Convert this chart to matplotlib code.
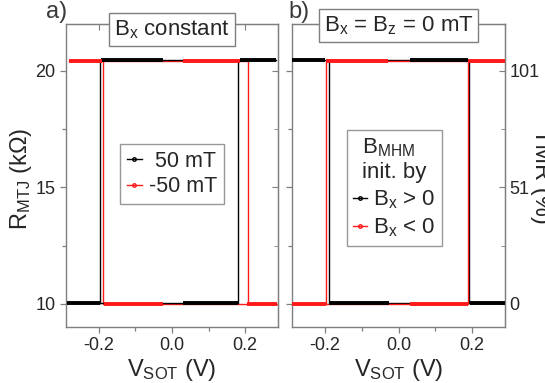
import matplotlib
matplotlib.use("Agg")
import matplotlib.pyplot as plt
from matplotlib.lines import Line2D
from matplotlib.ticker import MultipleLocator, FixedFormatter

plt.rcParams['font.family'] = ['Liberation Sans', 'DejaVu Sans']
plt.rcParams['mathtext.fontset'] = 'custom'
plt.rcParams['mathtext.rm'] = 'Liberation Sans'
plt.rcParams['mathtext.it'] = 'Liberation Sans'
plt.rcParams['mathtext.default'] = 'regular'

# ---------------- data ----------------
# Panel a (B_x constant): thin connecting loops (V in volts, R in kOhm)
a_black_loop_v = [-0.287, 0.182, 0.182, 0.286, -0.197, -0.197]
a_black_loop_r = [10.02, 10.02, 20.46, 20.46, 20.46, 10.02]
a_red_loop_v = [-0.283, 0.208, 0.208, 0.288, -0.188, -0.188]
a_red_loop_r = [20.40, 20.40, 10.00, 10.00, 10.00, 20.40]
# measured (symbol) segments: V start, V end, R level
a_black_seg_v0 = [-0.287, -0.194, 0.030, 0.186]
a_black_seg_v1 = [-0.197, -0.024, 0.182, 0.286]
a_black_seg_r = [10.02, 20.46, 10.02, 20.48]
a_red_seg_v0 = [-0.283, -0.186, 0.029, 0.206]
a_red_seg_v1 = [-0.190, -0.024, 0.186, 0.288]
a_red_seg_r = [20.40, 10.00, 20.40, 10.00]

# Panel b (B_x = B_z = 0 mT)
b_black_loop_v = [-0.290, 0.192, 0.192, 0.290, -0.189, -0.189]
b_black_loop_r = [20.44, 20.44, 10.02, 10.02, 10.02, 20.44]
b_red_loop_v = [-0.290, 0.190, 0.190, 0.290, -0.198, -0.198]
b_red_loop_r = [10.00, 10.00, 20.40, 20.40, 20.40, 10.00]
b_black_seg_v0 = [-0.290, -0.189, 0.030, 0.193]
b_black_seg_v1 = [-0.200, -0.025, 0.190, 0.290]
b_black_seg_r = [20.44, 10.02, 20.44, 10.02]
b_red_seg_v0 = [-0.290, -0.198, 0.030, 0.190]
b_red_seg_v1 = [-0.198, -0.030, 0.190, 0.290]
b_red_seg_r = [10.00, 20.40, 10.00, 20.40]

x_ticks = [-0.2, 0.0, 0.2]
x_ticklabels = ['-0.2', '0.0', '0.2']
y_ticks = [10, 15, 20]
tmr_ticklabels = ['0', '51', '101']

BLACK = '#000000'
RED = '#ff1a1a'
GRAY = '#7f7f7f'
TXT = '#262626'

fig = plt.figure(figsize=(5.45, 3.83), dpi=100)
ax_a = fig.add_axes([0.121, 0.146, 0.389, 0.791])
ax_b = fig.add_axes([0.536, 0.146, 0.391, 0.791])


def draw(ax, loops, segs):
    for (v, r, c, z) in loops:
        ax.plot(v, r, color=c, lw=1.0, zorder=z)
    for (v0, v1, rr, c, z) in segs:
        for a, b, r in zip(v0, v1, rr):
            ax.plot([a, b], [r, r], color=c, lw=2.8, zorder=z,
                    solid_capstyle='butt')


draw(ax_a,
     [(a_red_loop_v, a_red_loop_r, RED, 2), (a_black_loop_v, a_black_loop_r, BLACK, 3)],
     [(a_black_seg_v0, a_black_seg_v1, a_black_seg_r, BLACK, 4),
      (a_red_seg_v0, a_red_seg_v1, a_red_seg_r, RED, 4)])
draw(ax_b,
     [(b_black_loop_v, b_black_loop_r, BLACK, 2), (b_red_loop_v, b_red_loop_r, RED, 3)],
     [(b_black_seg_v0, b_black_seg_v1, b_black_seg_r, BLACK, 4),
      (b_red_seg_v0, b_red_seg_v1, b_red_seg_r, RED, 4)])

for ax in (ax_a, ax_b):
    ax.set_xlim(-0.29, 0.29)
    ax.set_ylim(9, 22)
    ax.set_xticks(x_ticks)
    ax.set_xticklabels(x_ticklabels)
    ax.xaxis.set_minor_locator(MultipleLocator(0.1))
    ax.set_yticks(y_ticks)
    ax.yaxis.set_minor_locator(MultipleLocator(2.5))
    for s in ax.spines.values():
        s.set_color(GRAY)
        s.set_linewidth(1.0)
    ax.tick_params(which='both', direction='out', color=GRAY, labelsize=13,
                   labelcolor=TXT, top=False, right=False, width=0.9)
    ax.tick_params(which='major', length=4)
    ax.tick_params(which='minor', length=3)
    ax.set_xlabel('V$_{SOT}$ (V)', fontsize=17, color=TXT, labelpad=2)
    sx = ax.secondary_xaxis('top')
    sx.set_xticks(x_ticks)
    sx.tick_params(direction='in', color=GRAY, labeltop=False, length=4)
    sx.spines['top'].set_color(GRAY)
    sy = ax.secondary_yaxis('right')
    sy.set_yticks(y_ticks)
    sy.yaxis.set_minor_locator(MultipleLocator(2.5))
    sy.tick_params(which='both', direction='in', color=GRAY, labelright=False)
    sy.tick_params(which='major', length=4)
    sy.tick_params(which='minor', length=3)
    sy.spines['right'].set_color(GRAY)
    if ax is ax_b:
        sy.tick_params(labelright=True, labelsize=13, labelcolor=TXT, pad=3)
        sy.yaxis.set_major_formatter(FixedFormatter(tmr_ticklabels))

ax_a.set_ylabel('R$_{MTJ}$ (kΩ)', fontsize=17, color=TXT)
ax_a.yaxis.set_label_coords(-0.15, 0.49)
ax_b.tick_params(labelleft=False)

box = dict(boxstyle='square,pad=0.22', fc='white', ec=GRAY, lw=1.0)
ax_a.text(0.5, 0.982, 'B$_x$ constant', transform=ax_a.transAxes, ha='center',
          va='center', fontsize=16, color=TXT, bbox=box, zorder=10)
ax_b.text(0.5, 0.995, 'B$_x$ = B$_z$ = 0 mT', transform=ax_b.transAxes, ha='center',
          va='center', fontsize=16, color=TXT, bbox=box, zorder=10)

fig.text(0.085, 0.998, 'a)', fontsize=17, color='#3a3a3a', va='top', ha='left')
fig.text(0.530, 0.998, 'b)', fontsize=17, color='#3a3a3a', va='top', ha='left')

fig.text(0.972, 0.54, 'TMR (%)', fontsize=17, color=TXT, rotation=-90,
         ha='left', va='center')

h_black = Line2D([], [], color=BLACK, lw=1.0, marker='o', ms=2.5, mfc='none')
h_red = Line2D([], [], color=RED, lw=1.0, marker='o', ms=2.5, mfc='none')
leg_a = ax_a.legend([h_black, h_red], [' 50 mT', '-50 mT'], loc='center',
                    bbox_to_anchor=(0.5, 0.505), fontsize=15.5, frameon=True,
                    fancybox=False, edgecolor=GRAY, handlelength=0.7,
                    handletextpad=0.35, borderpad=0.3, labelspacing=0.2,
                    borderaxespad=0)
leg_a.get_frame().set_linewidth(1.0)
for t in leg_a.get_texts():
    t.set_color(TXT)
leg_a.set_zorder(10)

leg_b = ax_b.legend([h_black, h_red], ['B$_x$ > 0', 'B$_x$ < 0'], loc='center',
                    bbox_to_anchor=(0.481, 0.46), fontsize=16, frameon=True,
                    fancybox=False, edgecolor=GRAY, handlelength=0.6,
                    handletextpad=0.3, borderpad=0.3, labelspacing=0.25,
                    borderaxespad=0, title='B$_{MHM}$\ninit. by',
                    title_fontsize=16)
leg_b.get_frame().set_linewidth(1.0)
leg_b.get_title().set_color(TXT)
for t in leg_b.get_texts():
    t.set_color(TXT)
leg_b.set_zorder(10)

fig.savefig('out.png', dpi=100)
